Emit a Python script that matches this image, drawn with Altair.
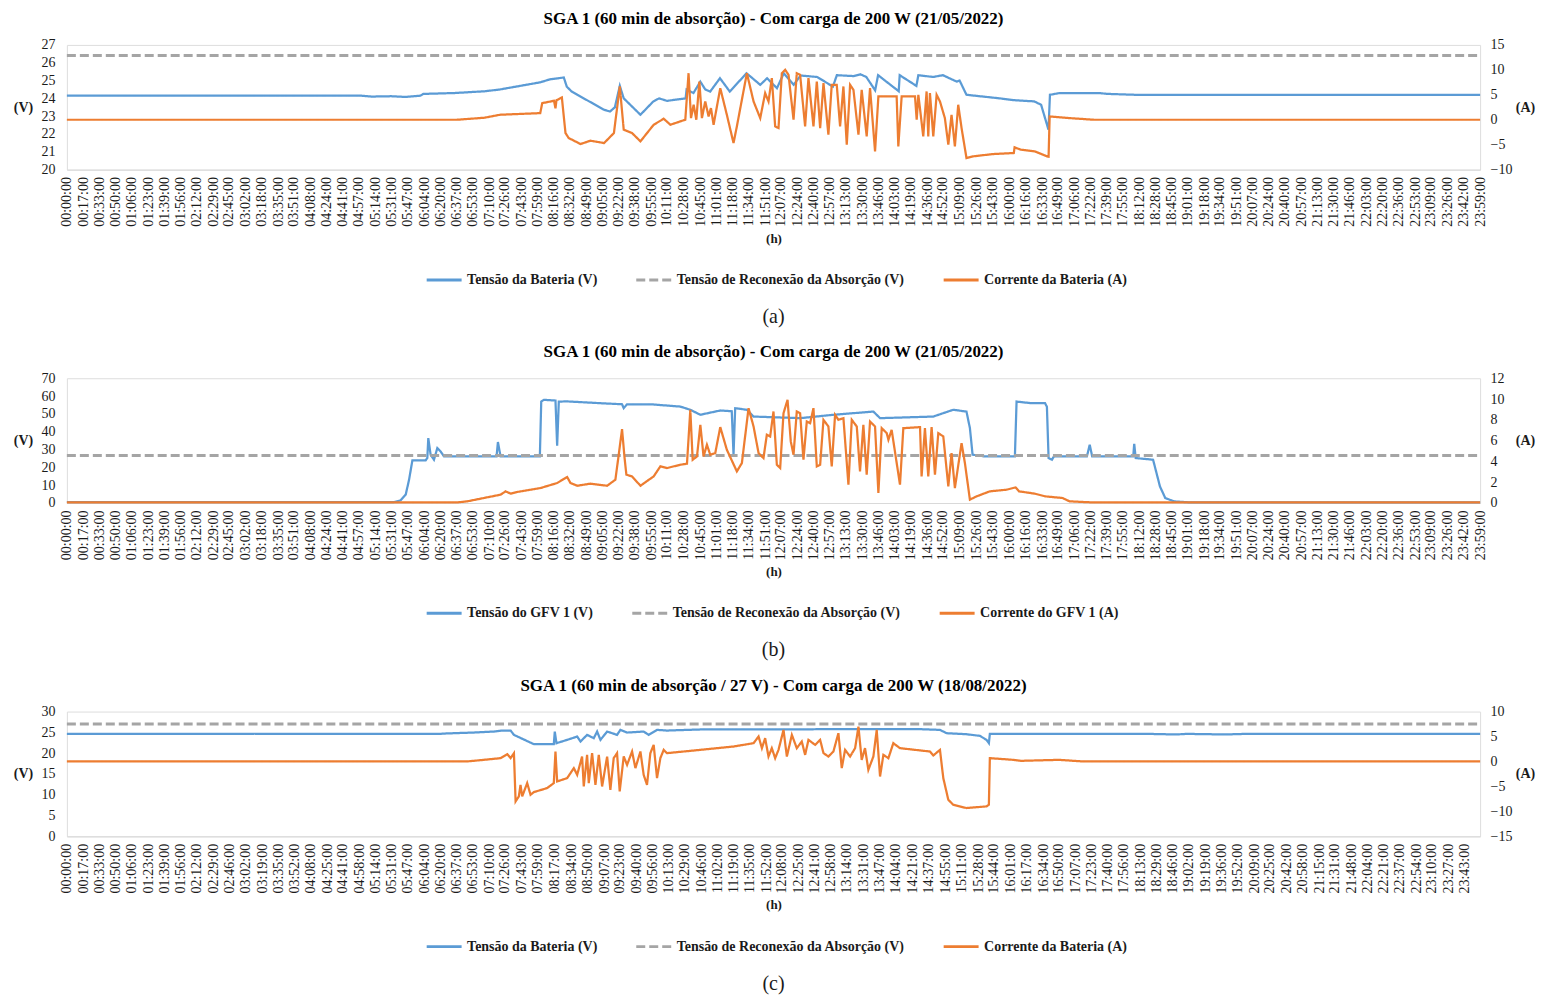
import altair as alt
import pandas as pd

FONT = "Liberation Serif"
BLUE, GRAY, ORANGE = "#5B9BD5", "#A5A5A5", "#ED7D31"
TXT = "#1a1a1a"

# ---------------- tick labels (category labels of the time axis) ----------------
ticks_ab = ("00:00 00:17 00:33 00:50 01:06 01:23 01:39 01:56 02:12 02:29 02:45 03:02 03:18 03:35 "
            "03:51 04:08 04:24 04:41 04:57 05:14 05:31 05:47 06:04 06:20 06:37 06:53 07:10 07:26 "
            "07:43 07:59 08:16 08:32 08:49 09:05 09:22 09:38 09:55 10:11 10:28 10:45 11:01 11:18 "
            "11:34 11:51 12:07 12:24 12:40 12:57 13:13 13:30 13:46 14:03 14:19 14:36 14:52 15:09 "
            "15:26 15:43 16:00 16:16 16:33 16:49 17:06 17:22 17:39 17:55 18:12 18:28 18:45 19:01 "
            "19:18 19:34 19:51 20:07 20:24 20:40 20:57 21:13 21:30 21:46 22:03 22:20 22:36 22:53 "
            "23:09 23:26 23:42 23:59").split()
ticks_c = ("00:00 00:17 00:33 00:50 01:06 01:23 01:39 01:56 02:12 02:29 02:46 03:02 03:19 03:35 "
           "03:52 04:08 04:25 04:41 04:58 05:14 05:31 05:47 06:04 06:20 06:37 06:53 07:10 07:26 "
           "07:43 07:59 08:17 08:34 08:50 09:07 09:23 09:40 09:56 10:13 10:29 10:46 11:02 11:19 "
           "11:35 11:52 12:08 12:25 12:41 12:58 13:14 13:31 13:47 14:04 14:21 14:37 14:55 15:11 "
           "15:28 15:44 16:01 16:17 16:34 16:50 17:07 17:23 17:40 17:56 18:13 18:29 18:46 19:02 "
           "19:19 19:36 19:52 20:09 20:25 20:42 20:58 21:15 21:31 21:48 22:04 22:21 22:37 22:54 "
           "23:10 23:27 23:43").split()

# ---------------- panel (a): (minute of day, value) ----------------
a_batt_v = [(0, 24.15), (300, 24.15), (310, 24.1), (330, 24.12), (345, 24.08), (360, 24.15), (363, 24.25),
            (395, 24.3), (426, 24.4), (441, 24.5), (482, 24.9), (492, 25.07), (506, 25.17), (509, 24.66),
            (514, 24.38), (547, 23.36), (553, 23.26), (558, 23.5), (563, 24.7), (567, 24.0), (584, 23.08),
            (597, 23.82), (603, 24.0), (611, 23.86), (630, 24.0), (631, 24.5), (638, 24.3), (645, 24.94),
            (650, 24.5), (655, 24.38), (665, 25.13), (675, 24.38), (692, 25.41), (706, 24.76), (713, 25.13),
            (723, 24.57), (730, 25.41), (740, 24.76), (747, 25.28), (764, 25.2), (780, 24.66), (784, 25.3),
            (801, 25.25), (808, 25.35), (814, 25.2), (823, 24.45), (826, 25.3), (847, 24.4), (848, 25.3),
            (865, 24.7), (867, 25.3), (882, 25.2), (892, 25.3), (906, 24.94), (909, 25.0), (916, 24.2),
            (950, 24.0), (964, 23.9), (985, 23.83), (992, 23.64), (999.5, 22.24), (1001, 24.2), (1010, 24.29),
            (1050, 24.3), (1060, 24.25), (1088, 24.2), (1439, 24.2)]
a_batt_i = [(0, 0), (397, 0), (425, 0.4), (441, 1.0), (482, 1.33), (484, 3.33), (496, 3.8), (497.5, 2.3),
            (498.5, 3.9), (504, 4.47), (507.7, -2.67), (511, -3.67), (523, -4.87), (533, -4.2), (547, -4.67),
            (557, -2.67), (563, 6.67), (567, -2.0), (575.5, -2.67), (584, -4.33), (597.5, -1.0), (607.7, 0.2),
            (614.5, -1.0), (624.6, -0.33), (629.7, 0.0), (633, 9.33), (635.5, 0.33), (638.2, 3.0), (640.9, 0.0),
            (644, 7.67), (646.6, 0.33), (650, 3.67), (653.4, 0.67), (655.8, 2.33), (658.5, -1.0), (665.3, 6.33),
            (672, 1.0), (678.8, -4.67), (682.2, -1.33), (692.4, 9.33), (699.2, 3.67), (706, 0.33), (711, 5.33),
            (714.4, 3.67), (717.8, 8.33), (721.2, -1.33), (724.6, -1.67), (728, 9.33), (731.4, 10.0), (734.8, 9.0),
            (739.9, 0), (743.2, 9.33), (746.6, 9.0), (751.7, -1.33), (755.1, 8.33), (760.2, -1.33), (763.6, 7.67),
            (767, -1.67), (770.4, 7.33), (775.4, -3.0), (778.8, 7.0), (783.9, 7.0), (787.3, -1.33), (790.7, 6.67),
            (794.1, -5.0), (797.5, 7.0), (800.9, 6.0), (806, -3.0), (809.3, 6.0), (814.4, -3.33), (817.8, 6.33),
            (822.9, -6.33), (826.3, 4.67), (844.9, 4.67), (846.6, -5.33), (850, 4.67), (863.6, 4.67), (865.3, 0.0),
            (867, 5.0), (872, -3.33), (875.4, 5.67), (877.1, -3.33), (878.8, 5.33), (882.2, -3.33), (885.6, 5.0),
            (889, 3.67), (894, 0.33), (897.5, -5.0), (900.8, 1.0), (904.2, -5.33), (907.6, 3.0), (911, -1.67),
            (916, -7.67), (922.9, -7.33), (943.2, -6.87), (964.2, -6.67), (965, -5.53), (971.3, -6.0),
            (985.5, -6.33), (997.9, -7.33), (999.6, -7.4), (1000.7, 0.67), (1021, 0.33), (1045.7, 0.0), (1439, 0)]
a_abs_v = 26.4

# ---------------- panel (b) ----------------
b_pv_v = [(0, 0.5), (333, 0.5), (339.9, 1.5), (345, 4.7), (348.4, 13.0), (351.8, 23.9), (365.3, 23.9), (367, 25.2),
          (368, 36.4), (370.4, 27.0), (373.8, 24.3), (377.2, 30.8), (380.6, 28.9), (384, 26.1), (437.5, 26.1),
          (438.9, 34.2), (441.6, 26.1), (481.6, 26.1), (483, 56.9), (485.7, 57.9), (497.5, 57.5), (499.2, 32.1),
          (500.9, 56.9), (509.4, 57.0), (526.3, 56.5), (543.3, 56.0), (565.3, 55.4), (567, 53.2), (570.4, 55.4),
          (594, 55.4), (624.6, 54.1), (634.8, 52.3), (645, 49.5), (665.3, 51.9), (677, 51.5), (678.8, 27.1),
          (680.5, 53.2), (692.4, 52.3), (699.2, 48.5), (746.6, 47.6), (780.5, 49.5), (821.2, 51.3), (828, 47.6),
          (882.2, 48.5), (902.5, 52.3), (916, 51.3), (919.5, 42), (922.2, 27.1), (934.7, 26.1), (965.3, 26.1),
          (967, 56.9), (981.9, 56), (996, 56), (997.9, 54), (999.6, 25.2), (1003, 24.3), (1005, 26.1),
          (1038.6, 26.1), (1041.5, 32.7), (1044, 26.1), (1085.8, 26.1), (1086.8, 33.2), (1088.3, 25.2),
          (1106, 24.3), (1109.5, 16.8), (1113, 9.3), (1118.4, 2.8), (1127.3, 0.9), (1141.4, 0.4), (1439, 0.4)]
b_pv_i = [(0, 0.05), (397, 0.05), (407.7, 0.16), (424.6, 0.48), (441.6, 0.8), (446.7, 1.12), (451.8, 0.9),
          (458.5, 1.06), (482.3, 1.44), (499.2, 1.92), (509.4, 2.5), (512.8, 1.92), (519.6, 1.66), (533.1, 1.86),
          (550.1, 1.66), (558.5, 2.24), (561.9, 4.64), (565.3, 7.1), (567.7, 4.48), (569.7, 2.72), (575.5, 2.56),
          (584, 1.66), (597.5, 2.56), (604.3, 3.52), (611, 3.36), (624.6, 3.68), (631.4, 3.78), (634.8, 8.96),
          (637.2, 4.16), (641.6, 4.48), (645, 7.52), (648.3, 4.48), (651.7, 5.6), (655.1, 4.64), (660.2, 4.8),
          (665.3, 7.3), (672, 5.12), (682.2, 3.04), (687.3, 3.84), (694.1, 9.12), (699.2, 7.36), (704.3, 4.8),
          (709.3, 4.32), (712.7, 6.56), (716.1, 6.4), (719.5, 8.8), (722.9, 3.68), (726.3, 3.36), (729.7, 8.64),
          (733.8, 9.92), (737.1, 5.92), (739.9, 4.64), (743.2, 8.8), (746.6, 8.64), (750, 4.16), (753.4, 7.84),
          (756.8, 7.68), (760.2, 9.12), (763.6, 3.52), (767, 3.68), (770.4, 8.0), (775.4, 7.36), (778.8, 3.52),
          (782.2, 8.48), (785.6, 8.0), (790.7, 8.16), (795.8, 1.76), (799.2, 8.0), (804.3, 7.36), (807.6, 3.04),
          (811, 7.52), (814.4, 2.72), (817.8, 7.84), (822.9, 7.36), (826.3, 0.96), (829.7, 7.2), (834.8, 6.72),
          (836.5, 6.08), (839.8, 7.04), (848.3, 1.76), (851.7, 7.2), (868.7, 7.3), (870.3, 2.56), (873.7, 7.2),
          (877.1, 2.56), (880.5, 7.3), (883.9, 2.72), (887.3, 6.72), (892.4, 6.4), (897.5, 1.6), (900.8, 4.8),
          (904.2, 1.44), (911, 5.76), (914.4, 3.84), (919.5, 0.32), (926.3, 0.64), (939.8, 1.12), (956.8, 1.28),
          (966, 1.5), (969.5, 1.12), (985.5, 0.9), (996, 0.64), (1013.8, 0.48), (1017.4, 0.32), (1020.9, 0.16),
          (1045.7, 0.05), (1439, 0.05)]
b_abs_v = 26.7

# ---------------- panel (c) ----------------
c_batt_v = [(0, 24.65), (380, 24.65), (387, 24.75), (414.5, 24.96), (434.8, 25.2), (442, 25.4), (451.8, 25.44),
            (455.2, 24.4), (475.5, 22.16), (495.8, 22.16), (496.8, 25.2), (498.5, 22.4), (509.4, 23.2),
            (519.6, 24.0), (523, 22.8), (529.7, 24.4), (536.5, 23.6), (539.9, 25.2), (543.3, 23.2), (550.1, 25.2),
            (560.2, 24.4), (563.6, 25.6), (570.4, 24.96), (587.3, 25.2), (592.4, 24.4), (600.9, 25.6),
            (611, 25.44), (645, 25.7), (865.3, 25.8), (889, 25.6), (895.8, 24.8), (916, 24.56), (929.7, 24.16),
            (936.4, 23.2), (938.8, 22.4), (939.8, 24.64), (1100, 24.64), (1130, 24.5), (1140, 24.64),
            (1180, 24.5), (1200, 24.64), (1439, 24.64)]
c_batt_i = [(0, 0), (407, 0), (424.6, 0.33), (441.6, 0.67), (448.4, 1.47), (451.8, 0.67), (455.2, 1.67),
            (456.9, -8.0), (460.2, -7.0), (461.9, -4.67), (463.6, -7.0), (468.7, -4.33), (472.1, -6.67),
            (475.5, -6.13), (489, -5.33), (495.8, -4.33), (497.5, 2.0), (499.2, -4.0), (509.4, -3.33),
            (516.2, -1.33), (519.6, -2.67), (524.6, 1.0), (526.3, -5.0), (529.7, 1.33), (531.4, -4.33),
            (534.8, 1.67), (538.2, -4.67), (541.6, 1.33), (545, -5.0), (550.1, 1.0), (553.4, -5.67), (556.8, 0.67),
            (560.2, 1.67), (562.9, -6.0), (567, 1.0), (570.4, -0.67), (575.5, 2.0), (578.9, -1.33), (584, 2.0),
            (587.3, -2.67), (590.7, -4.67), (594.1, 1.67), (597.5, 3.33), (600.9, -3.33), (604.3, 0.67),
            (607.7, 2.33), (611, 1.67), (645, 2.33), (678.8, 3.0), (699.2, 3.67), (704.3, 5.0), (707.7, 2.67),
            (711, 4.67), (714.4, 1.0), (717.8, 2.67), (721.2, 0.67), (724.6, 2.33), (729.7, 6.33), (733.1, 1.0),
            (738.2, 5.33), (743.2, 2.67), (748.3, 4.0), (751.7, 1.33), (755.1, 4.33), (761.9, 3.33), (767, 4.33),
            (770.4, 1.67), (775.4, 1.0), (780.5, 2.0), (785.6, 5.67), (789, -1.33), (792.4, 2.33), (797.5, 1.0),
            (802.6, 2.67), (806, 7.0), (809.3, 0.33), (812.7, 2.67), (816.1, -1.67), (821.2, 1.0), (824.6, 6.33),
            (828, -3.0), (831.4, 1.33), (836.5, 0.67), (841.5, 3.67), (848.3, 2.67), (878.8, 2.0), (882.2, 1.2),
            (889, 2.33), (892.4, -3.33), (897.5, -7.67), (902.5, -8.67), (916, -9.33), (936.4, -9.0),
            (938.8, -8.67), (939.8, 0.67), (963.5, 0.33), (971.3, 0.13), (1010.3, 0.33), (1035, 0.0), (1439, 0)]
c_abs_v = 27.0

LABEL_EXPR = "timeFormat(datetime(2022, 0, 1, 0, datum.value, 0), '%H:%M:%S')"
W, H = 1416, 125


def hm(s):
    return int(s[:2]) * 60 + int(s[3:5])


def panel(title, names, volt, absv, curr, yl, yr, ticks, caption):
    bname, aname, cname = names
    dom = [bname, aname, cname]
    df_b = pd.DataFrame(volt, columns=["t", "v"]); df_b["s"] = bname
    df_a = pd.DataFrame([(0, absv), (1439, absv)], columns=["t", "v"]); df_a["s"] = aname
    df_c = pd.DataFrame(curr, columns=["t", "v"]); df_c["s"] = cname

    leg = alt.Legend(orient="none", legendX=359, legendY=216.5, direction="horizontal", title=None,
                     symbolType="stroke", symbolSize=1225, symbolStrokeWidth=3,
                     labelFont=FONT, labelFontSize=14, labelFontWeight="bold", labelColor=TXT,
                     columnPadding=32, labelOffset=4, labelLimit=400)
    col = alt.Color("s:N", scale=alt.Scale(domain=dom, range=[BLUE, GRAY, ORANGE]), legend=leg, title=None)
    dash = alt.StrokeDash("s:N", scale=alt.Scale(domain=dom, range=[[1, 0], [9, 4], [1, 0]]),
                          legend=leg, title=None)
    xenc = alt.X("t:Q", scale=alt.Scale(domain=[0, 1439], nice=False, zero=False),
                 axis=alt.Axis(values=[hm(s) for s in ticks], labelExpr=LABEL_EXPR, labelAngle=270,
                               labelPadding=7, title="(h)", titleFont=FONT, titleFontSize=13,
                               titleFontWeight="bold", titleColor=TXT, titlePadding=6, labelFont=FONT,
                               labelFontSize=14, labelColor=TXT, domainColor="#D9D9D9", ticks=False,
                               grid=False, labelOverlap=False, labelBound=False, labelFlush=False))
    ylenc = alt.Y("v:Q", scale=alt.Scale(domain=[yl[0], yl[-1]], nice=False, zero=False),
                  axis=alt.Axis(values=yl, title="(V)", titleAngle=0, titleX=-44, titleY=H / 2,
                                titleAlign="center", titleBaseline="middle", titleFont=FONT, titleFontSize=14,
                                titleFontWeight="bold", titleColor=TXT, labelFont=FONT, labelFontSize=14,
                                labelPadding=12, labelColor=TXT, domain=False, ticks=False, grid=False))
    yrenc = alt.Y("v:Q", scale=alt.Scale(domain=[yr[0], yr[-1]], nice=False, zero=False),
                  axis=alt.Axis(values=yr, orient="right", title="(A)", titleAngle=0, titleX=45, titleY=H / 2,
                                titleAlign="center", titleBaseline="middle", titleFont=FONT, titleFontSize=14,
                                titleFontWeight="bold", titleColor=TXT, labelFont=FONT, labelFontSize=14,
                                labelPadding=10, labelColor=TXT, domain=False, ticks=False, grid=False))

    blue = alt.Chart(df_b).mark_line(strokeWidth=2.25).encode(x=xenc, y=ylenc, color=col, strokeDash=dash)
    gray = alt.Chart(df_a).mark_line(strokeWidth=3).encode(x=xenc, y=ylenc, color=col, strokeDash=dash)
    orange = alt.Chart(df_c).mark_line(strokeWidth=2.25).encode(x=xenc, y=yrenc, color=col, strokeDash=dash)
    cap = alt.Chart(pd.DataFrame({"c": [caption]})).mark_text(
        font=FONT, fontSize=20, baseline="middle", align="center", color=TXT
    ).encode(text="c:N", x=alt.value(W / 2), y=alt.value(272.5))

    return alt.layer(alt.layer(blue, gray), orange, cap).resolve_scale(y="independent").properties(
        width=W, height=H,
        title=alt.TitleParams(text=title, font=FONT, fontSize=17, fontWeight="bold", color="#000",
                              offset=10, anchor="middle"))


pa = panel("SGA 1 (60 min de absorção) - Com carga de 200 W (21/05/2022)",
           ["Tensão da Bateria (V)", "Tensão de Reconexão da Absorção (V)", "Corrente da Bateria (A)"],
           a_batt_v, a_abs_v, a_batt_i, list(range(20, 28)), list(range(-10, 16, 5)), ticks_ab, "(a)")
pb = panel("SGA 1 (60 min de absorção) - Com carga de 200 W (21/05/2022)",
           ["Tensão do GFV 1 (V)", "Tensão de Reconexão da Absorção (V)", "Corrente do GFV 1 (A)"],
           b_pv_v, b_abs_v, b_pv_i, list(range(0, 71, 10)), list(range(0, 13, 2)), ticks_ab, "(b)")
pc = panel("SGA 1 (60 min de absorção / 27 V) - Com carga de 200 W (18/08/2022)",
           ["Tensão da Bateria (V)", "Tensão de Reconexão da Absorção (V)", "Corrente da Bateria (A)"],
           c_batt_v, c_abs_v, c_batt_i, list(range(0, 31, 5)), list(range(-15, 11, 5)), ticks_c, "(c)")

chart = alt.vconcat(pa, pb, pc, spacing=15).resolve_scale(
    color="independent", strokeDash="independent"
).resolve_legend(color="independent", strokeDash="independent").properties(
    padding={"left": 4, "top": 0, "right": 0, "bottom": 0}
).configure_view(stroke=None).configure(background="white")

chart.save("out.html", embed_options={"renderer": "svg", "actions": False})
